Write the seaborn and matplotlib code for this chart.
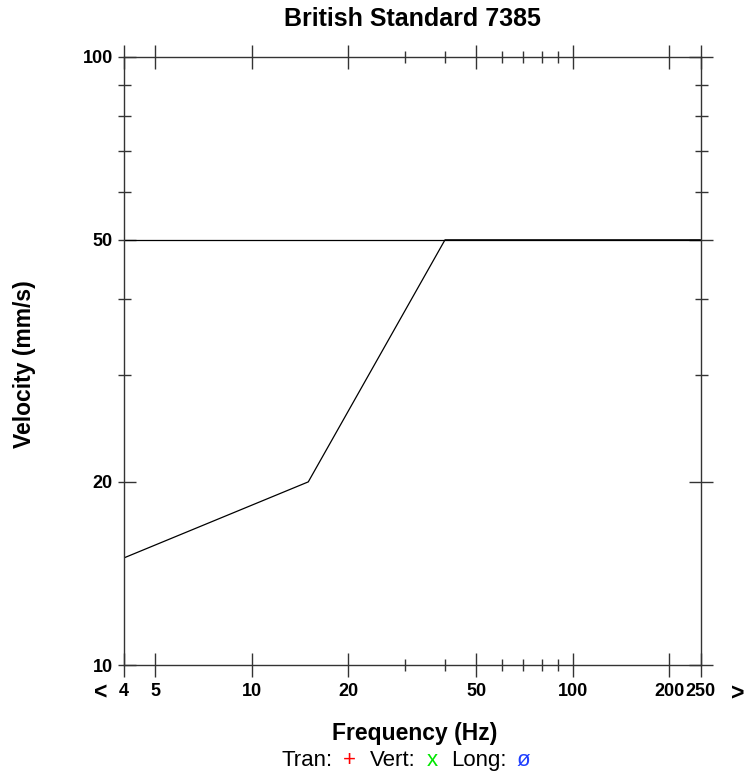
import matplotlib
matplotlib.use("Agg")
import matplotlib.pyplot as plt
import seaborn as sns
from matplotlib.ticker import FixedLocator, FixedFormatter, NullFormatter, NullLocator

# ---- data ----
freq_limit = [4, 15, 40, 250]
vel_limit = [15, 20, 50, 50]
freq_ref = [4, 250]
vel_ref = [50, 50]
x_major = [4, 5, 10, 20, 50, 100, 200, 250]
x_major_labels = ["4", "5", "10", "20", "50", "100", "200", "250"]
x_minor = [30, 40, 60, 70, 80, 90]
y_major = [10, 20, 50, 100]
y_major_labels = ["10", "20", "50", "100"]
y_minor = [30, 40, 60, 70, 80, 90]
x_lim = (4, 250)
y_lim = (10, 100)
title = "British Standard 7385"
x_title = "Frequency (Hz)"
y_title = "Velocity (mm/s)"
legend_parts = [("Tran:", "black"), ("+", "#ff0000"), ("Vert:", "black"),
                ("x", "#00e600"), ("Long:", "black"), ("\u00f8", "#1f3fff")]

sns.set_theme(style="white")
plt.rcParams['font.family'] = ['Liberation Sans', 'DejaVu Sans']
plt.rcParams['text.color'] = 'black'
plt.rcParams['xtick.labelcolor'] = 'black'
plt.rcParams['ytick.labelcolor'] = 'black'

W, H, DPI = 756, 776, 100
PT = 72.0 / DPI  # px -> pt
fig = plt.figure(figsize=(W / DPI, H / DPI), dpi=DPI)
fig.patch.set_facecolor("white")

L, R, T, B = 124, 700.5, 56.7, 665
pos = [L / W, 1 - B / H, (R - L) / W, (B - T) / H]
ax = fig.add_axes(pos)
ax.set_xscale("log")
ax.set_yscale("log")

sns.lineplot(x=freq_ref, y=vel_ref, ax=ax, color="black", lw=0.9, sort=False, estimator=None)
sns.lineplot(x=freq_limit, y=vel_limit, ax=ax, color="black", lw=0.9, sort=False, estimator=None)

ax.set_xlim(*x_lim)
ax.set_ylim(*y_lim)
ax.set_xlabel("")
ax.set_ylabel("")
ax.grid(False)

tc = "#333333"
for s in ax.spines.values():
    s.set_color(tc)
    s.set_linewidth(1.0)

ax.xaxis.set_major_locator(FixedLocator(x_major))
ax.xaxis.set_major_formatter(FixedFormatter(x_major_labels))
ax.xaxis.set_minor_locator(FixedLocator(x_minor))
ax.xaxis.set_minor_formatter(NullFormatter())
ax.yaxis.set_major_locator(FixedLocator(y_major))
ax.yaxis.set_major_formatter(FixedFormatter(y_major_labels))
ax.yaxis.set_minor_locator(FixedLocator(y_minor))
ax.yaxis.set_minor_formatter(NullFormatter())

ax.tick_params(axis="x", which="major", direction="inout", length=24 * PT, width=1.0,
               color=tc, top=True, bottom=True, labelsize=13, pad=4, labelcolor="black")
ax.tick_params(axis="x", which="minor", direction="inout", length=12 * PT, width=1.0,
               color=tc, top=True, bottom=True)
ax.tick_params(axis="y", which="major", direction="in", length=12 * PT, width=1.0,
               color=tc, left=True, right=True, labelsize=13, pad=8, labelcolor="black")
ax.tick_params(axis="y", which="minor", direction="inout", length=13 * PT, width=1.0,
               color=tc, left=True, right=True)
for lab in ax.get_xticklabels() + ax.get_yticklabels():
    lab.set_fontweight("bold")


def overlay(side, length_px):
    a = fig.add_axes(pos, facecolor="none")
    a.set_xscale("log")
    a.set_yscale("log")
    a.set_xlim(*x_lim)
    a.set_ylim(*y_lim)
    for s in a.spines.values():
        s.set_visible(False)
    a.xaxis.set_major_locator(NullLocator())
    a.xaxis.set_minor_locator(NullLocator())
    a.yaxis.set_major_locator(FixedLocator(y_major))
    a.yaxis.set_minor_locator(NullLocator())
    a.tick_params(axis="y", which="major", direction="out", length=length_px * PT, width=1.0,
                  color=tc, left=(side == "left"), right=(side == "right"),
                  labelleft=False, labelright=False)
    a.grid(False)
    return a


overlay("left", 6)
overlay("right", 12)


def fx(px):
    return px / W


def fy(py):
    return 1 - py / H


fig.text(fx(412), fy(26), title, ha="center", va="baseline", fontsize=18, fontweight="bold", color="black")
fig.text(fx(414.5), fy(740), x_title, ha="center", va="baseline", fontsize=16.5, fontweight="bold", color="black")
fig.text(fx(25), fy(364.5), y_title, ha="center", va="center", rotation=90,
         fontsize=16.5, fontweight="bold", color="black")
fig.text(fx(101), fy(699), "<", ha="center", va="baseline", fontsize=16.5, fontweight="bold", color="black")
fig.text(fx(737.5), fy(700.5), ">", ha="center", va="baseline", fontsize=16.5, fontweight="bold", color="black")

# legend line
leg_x = [(281.7, "left"), (349.5, "center"), (370, "left"), (432, "center"), (450.7, "left"), (523, "center")]
for (txt, col), (xp, ha) in zip(legend_parts, leg_x):
    fig.text(fx(xp), fy(766), txt, ha=ha, va="baseline", fontsize=16, color=col)

fig.savefig("out.png", dpi=DPI, facecolor="white")
